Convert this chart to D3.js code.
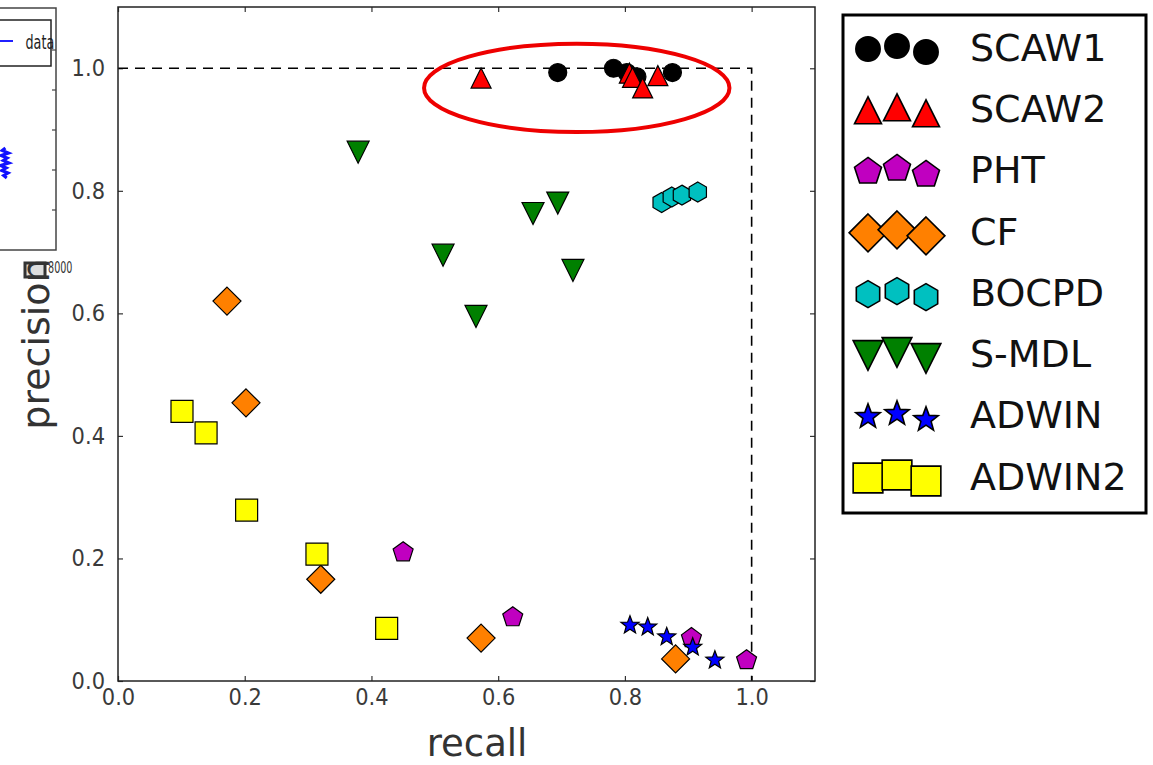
<!DOCTYPE html>
<html>
<head>
<meta charset="utf-8">
<script src="https://cdn.jsdelivr.net/npm/d3@7"></script>
<style>
  body { margin: 0; background: #fff; }
  svg { display: block; }
  text { font-family: "DejaVu Sans", sans-serif; }
  .stretch { transform-box: fill-box; transform-origin: center; }
</style>
</head>
<body>
<div id="chart"></div>
<script>
// precision / recall points, [recall, precision]
const seriesNames = ["SCAW1", "SCAW2", "PHT", "CF", "BOCPD", "S-MDL", "ADWIN", "ADWIN2"];
const scaw1 = [[0.694, 0.993], [0.782, 1.0], [0.803, 0.993], [0.819, 0.986], [0.875, 0.993]];
const scaw2 = [[0.573, 0.984], [0.807, 0.992], [0.812, 0.985], [0.828, 0.968], [0.852, 0.988]];
const pht = [[0.450, 0.210], [0.623, 0.104], [0.905, 0.070], [0.992, 0.034]];
const cf = [[0.172, 0.620], [0.202, 0.454], [0.320, 0.166], [0.573, 0.070], [0.880, 0.036]];
const bocpd = [[0.858, 0.781], [0.874, 0.790], [0.890, 0.793], [0.915, 0.798]];
const smdl = [[0.379, 0.863], [0.513, 0.695], [0.565, 0.595], [0.655, 0.763], [0.694, 0.780], [0.718, 0.670]];
const adwin = [[0.808, 0.091], [0.836, 0.088], [0.866, 0.072], [0.907, 0.055], [0.942, 0.034]];
const adwin2 = [[0.101, 0.440], [0.139, 0.405], [0.203, 0.279], [0.314, 0.207], [0.424, 0.086]];

const xTicks = [0.0, 0.2, 0.4, 0.6, 0.8, 1.0];
const yTicks = [0.0, 0.2, 0.4, 0.6, 0.8, 1.0];
const perfectCorner = [[0, 1], [1, 1], [1, 0]];
// highlighted area: centre recall, centre precision, half width, half height
const highlight = [0.724, 0.968, 0.241, 0.072];

// fragment of the neighbouring panel that was cropped into the picture
const insetSignal = [0.2, -0.5, 0.9, -0.8, 0.6, -0.3, 1.0, -0.9, 0.4, -0.6, 0.8, -0.2, 0.5];
const insetTicks = [0, 1, 2, 3, 4];

const seriesData = [scaw1, scaw2, pht, cf, bocpd, smdl, adwin, adwin2];
const seriesStyle = [
  { shape: "circle", fill: "#000000", size: 9 },
  { shape: "triangle-up", fill: "#ff0000", size: 10 },
  { shape: "pentagon", fill: "#c000c0", size: 10.5 },
  { shape: "diamond", fill: "#ff8000", size: 14 },
  { shape: "hexagon", fill: "#00c0c0", size: 10 },
  { shape: "triangle-down", fill: "#008000", size: 11 },
  { shape: "star", fill: "#0000ff", size: 9.5 },
  { shape: "square", fill: "#ffff00", size: 11 },
];

function polygon(points) {
  return "M" + points.map((p) => p.join(",")).join("L") + "Z";
}

function regular(n, r, inner) {
  const pts = [];
  const steps = inner ? n * 2 : n;
  for (let i = 0; i < steps; i++) {
    const a = -Math.PI / 2 + (i * 2 * Math.PI) / steps;
    const rr = inner && i % 2 === 1 ? inner : r;
    pts.push([rr * Math.cos(a), rr * Math.sin(a)]);
  }
  return pts;
}

function markerPath(shape, s) {
  switch (shape) {
    case "circle": return d3.symbol(d3.symbolCircle, Math.PI * s * s)();
    case "triangle-up": return polygon([[0, -s], [-s, s], [s, s]]);
    case "triangle-down": return polygon([[0, s], [-s, -s], [s, -s]]);
    case "square": return polygon([[-s, -s], [s, -s], [s, s], [-s, s]]);
    case "diamond": return polygon([[0, -s], [s, 0], [0, s], [-s, 0]]);
    case "pentagon": return polygon(regular(5, s));
    case "hexagon": return polygon(regular(6, s));
    case "star": return polygon(regular(5, s, s * 0.42));
  }
}

const width = 1153;
const height = 765;
const plot = { left: 118, top: 7, right: 815, bottom: 681 };

const svg = d3.select("#chart").append("svg")
  .attr("width", width).attr("height", height)
  .attr("viewBox", `0 0 ${width} ${height}`);

svg.append("rect").attr("width", width).attr("height", height).attr("fill", "#fff");

// ---- cropped neighbouring panel on the far left
const inset = svg.append("g");
inset.append("rect").attr("x", -20).attr("y", 8).attr("width", 76).attr("height", 242)
  .attr("fill", "#fff").attr("stroke", "#444").attr("stroke-width", 1.5);
const insetY = d3.scaleLinear().domain([0, 4]).range([50, 210]);
inset.selectAll("line.itick").data(insetTicks).join("line")
  .attr("x1", 56).attr("x2", 52)
  .attr("y1", (d) => insetY(d)).attr("y2", (d) => insetY(d))
  .attr("stroke", "#444").attr("stroke-width", 1.2);
inset.append("rect").attr("x", -20).attr("y", 20).attr("width", 71).attr("height", 46)
  .attr("fill", "#fff").attr("stroke", "#222").attr("stroke-width", 1.5);
inset.append("line").attr("x1", 0).attr("x2", 13).attr("y1", 41).attr("y2", 41)
  .attr("stroke", "#2020ff").attr("stroke-width", 2);
inset.append("text").attr("x", 23).attr("y", 47).text("data")
  .attr("font-family", "DejaVu Sans Condensed").attr("font-size", 15).attr("fill", "#222")
  .attr("class", "stretch").style("transform", "scale(0.85,1.35)");
const sigX = d3.scaleLinear().domain([-1, 1]).range([0, 9]);
const sigY = d3.scaleLinear().domain([0, insetSignal.length - 1]).range([148, 178]);
inset.append("path").datum(insetSignal)
  .attr("d", d3.line().x((d) => sigX(d)).y((d, i) => sigY(i)))
  .attr("fill", "none").attr("stroke", "#1010ff").attr("stroke-width", 3);
inset.append("rect").attr("x", 25).attr("y", 263).attr("width", 20).attr("height", 14)
  .attr("fill", "#ddd").attr("stroke", "#333").attr("stroke-width", 3);
inset.append("text").attr("x", 45).attr("y", 272).text("8000")
  .attr("font-family", "DejaVu Sans Condensed").attr("font-size", 12).attr("fill", "#333")
  .attr("class", "stretch").style("transform", "scale(0.8,1.3)");

// ---- main axes
const x = d3.scaleLinear().domain([0, 1.1]).range([plot.left, plot.right]);
const y = d3.scaleLinear().domain([0, 1.1]).range([plot.bottom, plot.top]);

const fmt = d3.format(".1f");
const tickLen = 5;

const xAxis = svg.append("g").attr("transform", `translate(0,${plot.bottom})`)
  .call(d3.axisBottom(x).tickValues(xTicks).tickFormat(fmt).tickSize(-tickLen).tickSizeOuter(0).tickPadding(8));
const yAxis = svg.append("g").attr("transform", `translate(${plot.left},0)`)
  .call(d3.axisLeft(y).tickValues(yTicks).tickFormat(fmt).tickSize(-tickLen).tickSizeOuter(0).tickPadding(13));
const xTop = svg.append("g").attr("transform", `translate(0,${plot.top})`)
  .call(d3.axisTop(x).tickValues(xTicks).tickFormat("").tickSize(-tickLen).tickSizeOuter(0));
const yRight = svg.append("g").attr("transform", `translate(${plot.right},0)`)
  .call(d3.axisRight(y).tickValues(yTicks).tickFormat("").tickSize(-tickLen).tickSizeOuter(0));

[xAxis, yAxis, xTop, yRight].forEach((g) => {
  g.select(".domain").remove();
  g.selectAll(".tick line").attr("stroke", "#333").attr("stroke-width", 1.2);
  g.selectAll(".tick text")
    .attr("font-family", "DejaVu Sans")
    .attr("font-size", 21).attr("fill", "#3a3a3a")
    .attr("class", "stretch").style("transform", "scaleY(1.1)");
});

// perfect precision / recall guide
svg.append("path").datum(perfectCorner)
  .attr("d", d3.line().x((d) => x(d[0])).y((d) => y(d[1])))
  .attr("fill", "none").attr("stroke", "#000").attr("stroke-width", 1.6)
  .attr("stroke-dasharray", "10,7");

// markers
seriesData.forEach((data, i) => {
  const st = seriesStyle[i];
  svg.append("g").selectAll("path").data(data).join("path")
    .attr("d", markerPath(st.shape, st.size))
    .attr("transform", (d) => `translate(${x(d[0])},${y(d[1])})`)
    .attr("fill", st.fill).attr("stroke", "#000").attr("stroke-width", 1.2);
});

// frame
svg.append("rect")
  .attr("x", plot.left).attr("y", plot.top)
  .attr("width", plot.right - plot.left).attr("height", plot.bottom - plot.top)
  .attr("fill", "none").attr("stroke", "#222").attr("stroke-width", 1.5);

// annotation ellipse
svg.append("ellipse")
  .attr("cx", x(highlight[0])).attr("cy", y(highlight[1]))
  .attr("rx", x(highlight[2]) - x(0)).attr("ry", y(0) - y(highlight[3]))
  .attr("fill", "none").attr("stroke", "#ee0000").attr("stroke-width", 4);

// axis titles
svg.append("text").attr("x", 477).attr("y", 756)
  .attr("text-anchor", "middle").attr("font-size", 37).attr("fill", "#333")
  .text("recall");
svg.append("text").attr("transform", "translate(49,344) rotate(-90)")
  .attr("text-anchor", "middle").attr("font-size", 38).attr("fill", "#333")
  .text("precision");

// ---- legend
const legendBox = { x: 843, y: 15, w: 303, h: 498 };
const legend = svg.append("g");
legend.append("rect")
  .attr("x", legendBox.x).attr("y", legendBox.y)
  .attr("width", legendBox.w).attr("height", legendBox.h)
  .attr("fill", "#fff").attr("stroke", "#000").attr("stroke-width", 3);

const legendY = d3.scalePoint().domain(seriesNames).range([47, 476]);
const handleX = [868, 897, 926];
const handleDy = [2, -1, 5];

const items = legend.selectAll("g.item").data(seriesNames).join("g")
  .attr("transform", (d) => `translate(0,${legendY(d)})`);

items.each(function (name, i) {
  const st = seriesStyle[i];
  const g = d3.select(this);
  handleX.forEach((hx, k) => {
    g.append("path")
      .attr("d", markerPath(st.shape, st.size * 1.35))
      .attr("transform", `translate(${hx},${handleDy[k]})`)
      .attr("fill", st.fill).attr("stroke", "#000").attr("stroke-width", 1.6);
  });
  g.append("text").attr("x", 970).attr("y", 0).attr("dy", "0.36em")
    .attr("font-size", 38).attr("fill", "#111")
    .text(name);
});
</script>
</body>
</html>
